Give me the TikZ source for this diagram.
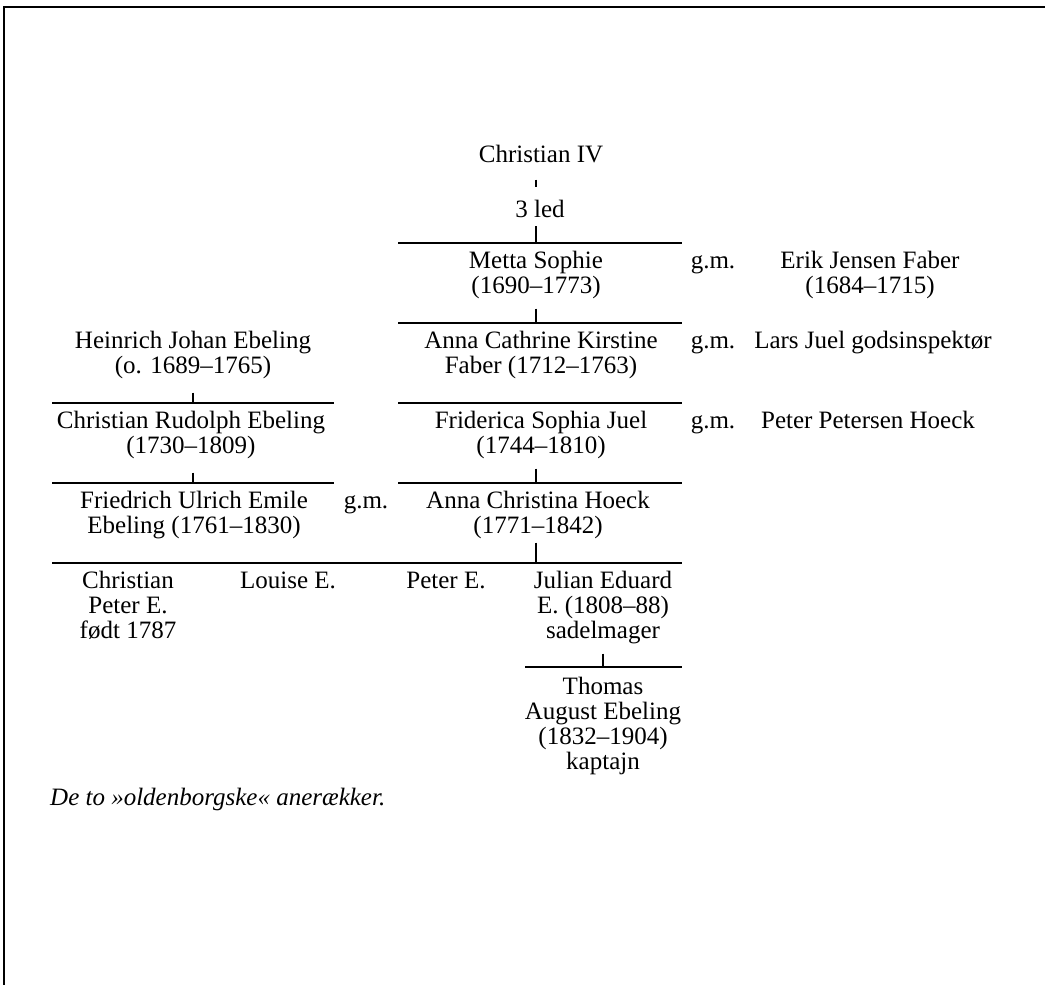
\documentclass[tikz,border=0pt]{standalone}
\usepackage{fontspec}
\setmainfont{Liberation Serif}
\usetikzlibrary{calc}
\begin{document}
\begin{tikzpicture}[x=1pt,y=-1pt,
  txt/.style={font=\fontsize{25}{25}\selectfont, inner sep=0pt, align=center, anchor=base},
  rule/.style={line width=1.4pt},
  stem/.style={line width=1.2pt},
  frame/.style={line width=2pt}]
\useasboundingbox (0,0) rectangle (1045,985);
\draw[frame] (1045,7) -- (4,7) -- (4,985);

% stem x positions
\coordinate (sx) at (536,0);
\coordinate (sl) at (193,0);
\coordinate (sj) at (603,0);

% horizontal rules
\coordinate (L1a) at (398,243); \coordinate (L1b) at (682,243);
\coordinate (L2a) at (398,323); \coordinate (L2b) at (682,323);
\coordinate (L3a) at (398,403); \coordinate (L3b) at (682,403);
\coordinate (L4a) at (398,483); \coordinate (L4b) at (682,483);
\coordinate (L5a) at (52,563);  \coordinate (L5b) at (682,563);
\coordinate (M1a) at (52,403);  \coordinate (M1b) at (334,403);
\coordinate (M2a) at (52,483);  \coordinate (M2b) at (334,483);
\coordinate (L6a) at (525,667); \coordinate (L6b) at (682,667);
\foreach \a/\b in {L1a/L1b,L2a/L2b,L3a/L3b,L4a/L4b,L5a/L5b,M1a/M1b,M2a/M2b,L6a/L6b}
  \draw[rule] (\a) -- (\b);

% right line (base anchor = baseline of the last line)
\node[txt] (c4) at (541,162) {Christian IV};
\node[txt] (led) at (540,217) {3 led};
\node[txt] (metta) at (536,293) {Metta Sophie\\(1690–1773)};
\node[txt] (acath) at (541,373) {Anna Cathrine Kirstine\\Faber (1712–1763)};
\node[txt] (frid) at (541,453) {Friderica Sophia Juel\\(1744–1810)};
\node[txt] (achr) at (538,533) {Anna Christina Hoeck\\(1771–1842)};

% spouses
\node[txt] (gm1) at (713,268) {g.m.};
\node[txt] (erik) at (870,293) {Erik Jensen Faber\\(1684–1715)};
\node[txt] (gm2) at (713,348) {g.m.};
\node[txt] (lars) at (873,348) {Lars Juel godsinspektør};
\node[txt] (gm3) at (713,428) {g.m.};
\node[txt] (pph) at (868,428) {Peter Petersen Hoeck};

% left line
\node[txt] (hje) at (193,373) {Heinrich Johan Ebeling\\(o. 1689–1765)};
\node[txt] (cre) at (191,453) {Christian Rudolph Ebeling\\(1730–1809)};
\node[txt] (fue) at (194,533) {Friedrich Ulrich Emile\\Ebeling (1761–1830)};
\node[txt] (gm4) at (366,508) {g.m.};

% children
\node[txt] (cpe) at (128,638) {Christian\\Peter E.\\født 1787};
\node[txt] (loe) at (288,588) {Louise E.};
\node[txt] (pte) at (446,588) {Peter E.};
\node[txt] (jee) at (603,638) {Julian Eduard\\E. (1808–88)\\sadelmager};
\node[txt] (tae) at (603,769) {Thomas\\August Ebeling\\(1832–1904)\\kaptajn};

% caption
\node[txt, anchor=base west, font=\fontsize{25}{25}\selectfont\itshape] (cap) at (50,805) {De to »oldenborgske« anerækker.};

% stems
\draw[stem] ($(c4.south -| sx)+(0,17)$) -- ($(led.north -| sx)+(0,-12)$);
\draw[stem] ($(led.south -| sx)+(0,9)$) -- (sx |- L1a);
\draw[stem] ($(metta.south -| sx)+(0,10)$) -- (sx |- L2a);
\draw[stem] ($(frid.south -| sx)+(0,10)$) -- (sx |- L4a);
\draw[stem] ($(achr.south -| sx)+(0,4)$) -- (sx |- L5a);
\draw[stem] ($(hje.south -| sl)+(0,14)$) -- (sl |- M1a);
\draw[stem] ($(cre.south -| sl)+(0,14)$) -- (sl |- M2a);
\draw[stem] ($(jee.south -| sj)+(0,10)$) -- (sj |- L6a);
\end{tikzpicture}
\end{document}
